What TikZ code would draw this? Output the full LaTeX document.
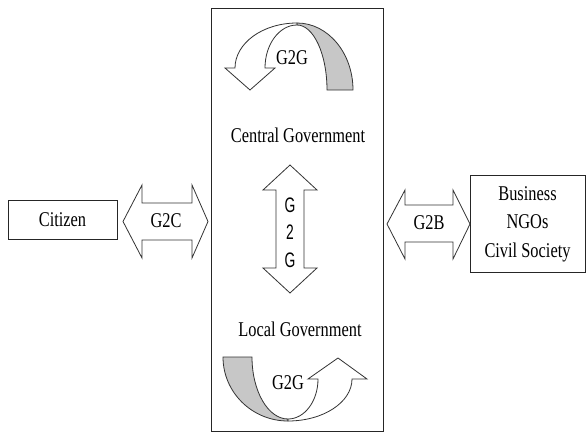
\documentclass[tikz,border=0pt]{standalone}
\usepackage{fontspec}
\setmainfont{Liberation Serif}[FakeStretch=0.78]
\newfontfamily\sfn{Liberation Sans}[FakeStretch=0.66]
\begin{document}
\begin{tikzpicture}[x=1pt,y=-1pt,
  box/.style={draw=black!85, line width=0.9pt, inner sep=0pt},
  blk/.style={draw=black!80, line width=0.8pt, fill=white, line join=miter},
  back/.style={draw=black!80, line width=0.8pt, fill=black!22},
  lbl/.style={font=\fontsize{21}{28.5}\selectfont, inner sep=0pt, align=center},
  vlbl/.style={font=\sfn\fontsize{21}{24}\selectfont, inner sep=0pt}]
\useasboundingbox (0,0) rectangle (587,434);

% boxes
\node[box, minimum width=172pt, minimum height=423pt] (main) at (297,219.5) {};
\node[box, minimum width=109pt, minimum height=39pt] (citizen) at (62.5,219.5) {};
\node[box, minimum width=115pt, minimum height=97pt] (business) at (527.5,223.5) {};
\node[lbl] (citizenT) at (62.5,220) {Citizen};
\node[lbl] (businessT) at (527.5,224) {Business\\NGOs\\Civil Society};
\node[lbl] (central) at (298,135) {Central Government};
\node[lbl] (local) at (300,329) {Local Government};

% upper curved arrow
\path[back] (297,23) arc[start angle=-90, end angle=0, x radius=56, y radius=67]
  -- (327,90) arc[start angle=0, end angle=-90, x radius=30, y radius=65] -- cycle;
\path[blk] (297,23) arc[start angle=-90, end angle=-180, x radius=62, y radius=45]
  -- (225,68) -- (250,90) -- (275,68) -- (265,68)
  arc[start angle=180, end angle=270, x radius=32, y radius=43] -- cycle;
\node[lbl] (g2gtop) at (292,58) {G2G};

% lower curved arrow
\path[back] (223,357) arc[start angle=180, end angle=90, x radius=65, y radius=64]
  -- (288,419) arc[start angle=90, end angle=180, x radius=36, y radius=62] -- cycle;
\path[blk] (288,421) arc[start angle=90, end angle=0, x radius=64, y radius=42]
  -- (367,379) -- (338,358) -- (308,379) -- (318,379)
  arc[start angle=0, end angle=90, x radius=30, y radius=40] -- cycle;
\node[lbl] (g2gbot) at (288,383) {G2G};

% G2C double arrow
\path[blk] (123,221.5) -- (142,185) -- (142,203) -- (192,203) -- (192,185) -- (208,221.5)
  -- (192,258) -- (192,240) -- (142,240) -- (142,258) -- cycle;
\node[lbl] (g2c) at (166,221) {G2C};

% G2B double arrow
\path[blk] (387,224) -- (405,190) -- (405,205) -- (453,205) -- (453,190) -- (470,224)
  -- (453,259) -- (453,242) -- (405,242) -- (405,259) -- cycle;
\node[lbl] (g2b) at (429,223) {G2B};

% vertical double arrow
\path[blk] (290,165) -- (317,190) -- (304,190) -- (304,268) -- (317,268) -- (290,293)
  -- (263,268) -- (276,268) -- (276,190) -- (263,190) -- cycle;
\node[vlbl] (vg1) at (290,205) {G};
\node[vlbl] (vg2) at (290,232) {2};
\node[vlbl] (vg3) at (290,260) {G};
\end{tikzpicture}
\end{document}
